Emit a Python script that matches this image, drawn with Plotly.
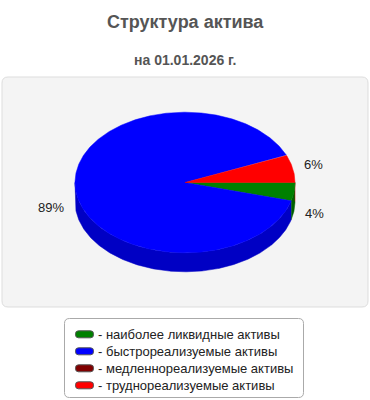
import math
import plotly.graph_objects as go

# ---- data ----
categories = ["наиболее ликвидные активы", "быстрореализуемые активы",
              "медленнореализуемые активы", "труднореализуемые активы"]
values = [4.2, 89.4, 0.0, 6.4]
top_colors = ["#008000", "#0000ff", "#800000", "#ff0000"]
side_colors = ["#006000", "#0000c4", "#600000", "#c00000"]
title_text = "Структура актива"
subtitle_text = "на 01.01.2026 г."

# ---- geometry (pixel-like coords, y down) ----
W, H = 370, 400
cx, cy, rx, ry, depth = 185, 182.5, 110, 70.3, 19
FONT = "Liberation Sans, Arial, sans-serif"

def pt(theta_deg, dy=0.0):
    t = math.radians(theta_deg)
    return cx + rx * math.cos(t), cy - ry * math.sin(t) + dy

def arc(a, b, dy=0.0):
    n = max(2, int(abs(b - a) * 2) + 2)
    xs, ys = [], []
    for i in range(n):
        th = a + (b - a) * i / (n - 1)
        x, y = pt(th, dy)
        xs.append(x); ys.append(y)
    return xs, ys

total = sum(values)
fig = go.Figure()

# slices: start at 0 deg, go clockwise (decreasing angle)
slices = []
start = 0.0
for v in values:
    sweep = v / total * 360.0
    slices.append((start, start - sweep))
    start -= sweep

# side walls (front half only)
for (s, e), col in zip(slices, side_colors):
    if s == e:
        continue
    lo, hi = e, s
    for k in (0, -1):
        flo, fhi = -180 + 360 * k, 360 * k
        a, b = max(lo, flo), min(hi, fhi)
        if b > a:
            xt, yt = arc(b, a)
            xb, yb = arc(a, b, depth)
            fig.add_trace(go.Scatter(x=xt + xb, y=yt + yb, fill="toself", mode="lines",
                                     fillcolor=col, line=dict(color=col, width=0.5),
                                     hoverinfo="skip", showlegend=False))

# top faces
for (s, e), col in zip(slices, top_colors):
    if s == e:
        continue
    xa, ya = arc(s, e)
    fig.add_trace(go.Scatter(x=[cx] + xa + [cx], y=[cy] + ya + [cy], fill="toself", mode="lines",
                             fillcolor=col, line=dict(color=col, width=0.5),
                             hoverinfo="skip", showlegend=False))

annotations = []
# pie labels
for (s, e), v in zip(slices, values):
    if v <= 0:
        continue
    m = (s + e) / 2
    t = math.radians(m)
    c, sn = math.cos(t), math.sin(t)
    x = cx + (rx + 9) * c
    y = cy - (ry + 18) * sn + (depth if sn < 0 else 0)
    annotations.append(dict(x=x, y=y, xref="x", yref="y", text=f"{round(v / total * 100)}%",
                            showarrow=False, xanchor="left" if c >= 0 else "right",
                            yanchor="middle", font=dict(family=FONT, size=13, color="#222222")))

# titles
annotations.append(dict(x=185, y=22, xref="x", yref="y", text=f"<b>{title_text}</b>", showarrow=False,
                        font=dict(family=FONT, size=18, color="#555555"), yanchor="middle"))
annotations.append(dict(x=185, y=60, xref="x", yref="y", text=f"<b>{subtitle_text}</b>", showarrow=False,
                        font=dict(family=FONT, size=14, color="#555555"), yanchor="middle"))

def rrect(x0, y0, x1, y1, r):
    return (f"M {x0 + r},{y0} L {x1 - r},{y0} Q {x1},{y0} {x1},{y0 + r} "
            f"L {x1},{y1 - r} Q {x1},{y1} {x1 - r},{y1} L {x0 + r},{y1} "
            f"Q {x0},{y1} {x0},{y1 - r} L {x0},{y0 + r} Q {x0},{y0} {x0 + r},{y0} Z")

shapes = [
    dict(type="path", path=rrect(2, 77, 368, 307, 6), xref="x", yref="y",
         fillcolor="#f4f4f4", line=dict(color="#dddddd", width=1), layer="below"),
    dict(type="path", path=rrect(64.5, 318.5, 303.5, 397.5, 5), xref="x", yref="y",
         fillcolor="#ffffff", line=dict(color="#aaaaaa", width=1), layer="below"),
]

# legend
for i, (cat, col) in enumerate(zip(categories, top_colors)):
    yc = 334.3 + 17 * i
    shapes.append(dict(type="path", path=rrect(75.5, yc - 3.5, 93.5, yc + 3.5, 3), xref="x", yref="y",
                       fillcolor=col, line=dict(color="#555555", width=1)))
    annotations.append(dict(x=96, y=yc, xref="x", yref="y", text=f"- {cat}", showarrow=False,
                            xanchor="left", yanchor="middle",
                            font=dict(family=FONT, size=13, color="#222222")))

fig.update_layout(
    width=W, height=H, margin=dict(l=0, r=0, t=0, b=0),
    paper_bgcolor="white", plot_bgcolor="rgba(0,0,0,0)",
    xaxis=dict(range=[0, W], visible=False, fixedrange=True),
    yaxis=dict(range=[H, 0], visible=False, fixedrange=True),
    shapes=shapes, annotations=annotations, showlegend=False,
)
fig.write_html("out.html", config={"displayModeBar": False})
